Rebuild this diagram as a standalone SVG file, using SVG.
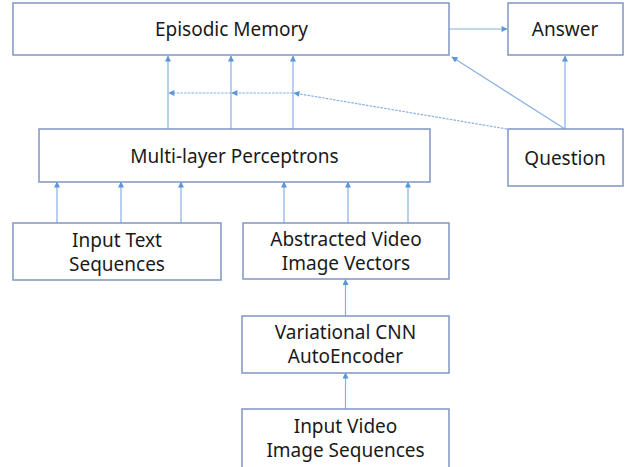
<svg xmlns="http://www.w3.org/2000/svg" width="632" height="467" viewBox="0 0 632 467">
<style>
.box{fill:#fff;stroke:#7f95c2;stroke-width:1.5}
.lbl{font-family:"Noto Sans","Liberation Sans",sans-serif;font-size:19px;fill:#1a1a1a;text-anchor:middle}
.ln{stroke:#86b0e0;stroke-width:1.2;fill:none}
.dash{stroke-dasharray:2.5 1.2}
</style>
<defs>
<marker id="ah" viewBox="0 0 10 10" refX="9" refY="5" markerWidth="7" markerHeight="6" markerUnits="userSpaceOnUse" orient="auto">
<path d="M0,0 L10,5 L0,10 z" fill="#5b96d6"/>
</marker>
</defs>
<rect width="632" height="467" fill="#fff"/>
<g id="connectors">
<line class="ln" x1="449" y1="29" x2="507" y2="29" marker-end="url(#ah)"/>
<line class="ln" x1="565" y1="129" x2="565" y2="56" marker-end="url(#ah)"/>
<line class="ln" x1="565" y1="129" x2="452" y2="57" marker-end="url(#ah)"/>
<line class="ln" x1="168" y1="129" x2="168" y2="56" marker-end="url(#ah)"/>
<line class="ln" x1="231" y1="129" x2="231" y2="56" marker-end="url(#ah)"/>
<line class="ln" x1="293" y1="129" x2="293" y2="56" marker-end="url(#ah)"/>
<line class="ln dash" x1="507" y1="129" x2="294" y2="93" marker-end="url(#ah)"/>
<line class="ln dash" x1="293" y1="93" x2="232" y2="93" marker-end="url(#ah)"/>
<line class="ln dash" x1="231" y1="93" x2="169" y2="93" marker-end="url(#ah)"/>
<line class="ln" x1="57" y1="223" x2="57" y2="182" marker-end="url(#ah)"/>
<line class="ln" x1="121" y1="223" x2="121" y2="182" marker-end="url(#ah)"/>
<line class="ln" x1="181" y1="223" x2="181" y2="182" marker-end="url(#ah)"/>
<line class="ln" x1="284" y1="223" x2="284" y2="182" marker-end="url(#ah)"/>
<line class="ln" x1="348" y1="223" x2="348" y2="182" marker-end="url(#ah)"/>
<line class="ln" x1="408" y1="223" x2="408" y2="182" marker-end="url(#ah)"/>
<line class="ln" x1="345.5" y1="316" x2="345.5" y2="279.5" marker-end="url(#ah)"/>
<line class="ln" x1="345.5" y1="409" x2="345.5" y2="373" marker-end="url(#ah)"/>
</g>
<g id="episodic-memory">
<rect class="box" x="13" y="3" width="436" height="52"/>
<text class="lbl" x="231.5" y="36">Episodic Memory</text>
</g>
<g id="answer">
<rect class="box" x="508" y="3" width="115" height="52"/>
<text class="lbl" x="565" y="36">Answer</text>
</g>
<g id="mlp">
<rect class="box" x="39" y="129" width="391" height="53"/>
<text class="lbl" x="234.5" y="162.7">Multi-layer Perceptrons</text>
</g>
<g id="question">
<rect class="box" x="508" y="129" width="115" height="57"/>
<text class="lbl" x="565" y="164.5">Question</text>
</g>
<g id="input-text">
<rect class="box" x="13" y="223" width="208" height="57"/>
<text class="lbl" x="117" y="247.3">Input Text</text>
<text class="lbl" x="117" y="270.7">Sequences</text>
</g>
<g id="abstracted-video">
<rect class="box" x="243" y="223" width="206" height="56"/>
<text class="lbl" x="346" y="245.7">Abstracted Video</text>
<text class="lbl" x="346" y="270">Image Vectors</text>
</g>
<g id="vae">
<rect class="box" x="242" y="316" width="207" height="57"/>
<text class="lbl" x="345.5" y="339.3">Variational CNN</text>
<text class="lbl" x="345.5" y="363.3">AutoEncoder</text>
</g>
<g id="input-video">
<rect class="box" x="242" y="409" width="207" height="62"/>
<text class="lbl" x="345.5" y="433.3">Input Video</text>
<text class="lbl" x="345.5" y="456.7">Image Sequences</text>
</g>
</svg>
